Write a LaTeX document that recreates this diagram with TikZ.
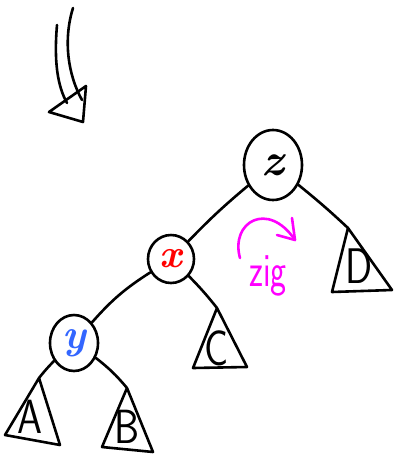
\documentclass[tikz,border=0pt]{standalone}
\usepackage{fontspec}
\usetikzlibrary{shapes.geometric}
\definecolor{pinkm}{RGB}{255,0,255}
\definecolor{bluey}{RGB}{51,102,255}
\begin{document}
\begin{tikzpicture}[x=1pt,y=-1pt, line width=2.6pt, line cap=round, line join=round,
  tnode/.style={draw, ellipse, inner sep=0pt},
  lbl/.style={font=\sffamily\fontsize{40}{40}\selectfont, inner sep=0pt},
  pink/.style={draw=pinkm, line width=2.6pt}]
\useasboundingbox (0,0) rectangle (394,456);
% entry arrow
\coordinate (a1s) at (57,25);
\coordinate (a1e) at (67,103);
\coordinate (a2s) at (73,8);
\coordinate (a2e) at (82,100);
\draw (a1s) .. controls (54,60) and (57,85) .. (a1e);
\draw (a2s) .. controls (63,40) and (68,75) .. (a2e);
\coordinate (h1) at (49,112);
\coordinate (h2) at (86,86);
\coordinate (h3) at (83,122);
\draw (h1) -- (h2) -- (h3) -- cycle;
% tree nodes
\node[tnode, minimum width=58pt, minimum height=70pt] (z) at (273,165) {\fontsize{46}{46}\selectfont\bfseries\itshape z};
\node[tnode, minimum width=46pt, minimum height=48pt] (x) at (171,259) {\fontsize{40}{40}\selectfont\bfseries\itshape\color{red}x};
\node[tnode, minimum width=48pt, minimum height=56pt] (y) at (74,343) {\fontsize{42}{42}\selectfont\bfseries\itshape\color{bluey}y};
% subtrees
\coordinate (Dt) at (348,228);
\draw (Dt) -- (332,292) -- (392,290) -- cycle;
\node[lbl] (Dl) at (359,266) {\scalebox{1}[1.25]{D}};
\coordinate (Ct) at (217,308);
\draw (Ct) -- (193,368) -- (247,367) -- cycle;
\node[lbl] (Cl) at (217,348) {\scalebox{1}[1.25]{C}};
\coordinate (At) at (39,378);
\draw (At) -- (5,435) -- (60,445) -- cycle;
\node[lbl] (Al) at (30,417) {\scalebox{1}[1.2]{A}};
\coordinate (Bt) at (127,388);
\draw (Bt) -- (102,447) -- (153,452) -- cycle;
\node[lbl] (Bl) at (127,427) {\scalebox{1}[1.2]{B}};
% edges
\draw (z) to[bend right=3] (x);
\draw (z) to[bend left=2] (Dt);
\draw (x) to[bend right=8] (y);
\draw (x) to[bend left=3] (Ct);
\draw (y) to[bend right=3] (At);
\draw (y) to[bend left=6] (Bt);
% zig rotation
\coordinate (r1) at (240,258);
\coordinate (r2) at (295,240);
\draw[pink] (r1) .. controls (230,222) and (268,200) .. (r2);
\coordinate (rh1) at (277,235);
\coordinate (rh2) at (292,218);
\draw[pink] (rh1) -- (r2) -- (rh2);
\node[text=pinkm, font=\sffamily\fontsize{34}{34}\selectfont] (zig) at (268,276) {\scalebox{1}[1.4]{zig}};
\end{tikzpicture}
\end{document}
